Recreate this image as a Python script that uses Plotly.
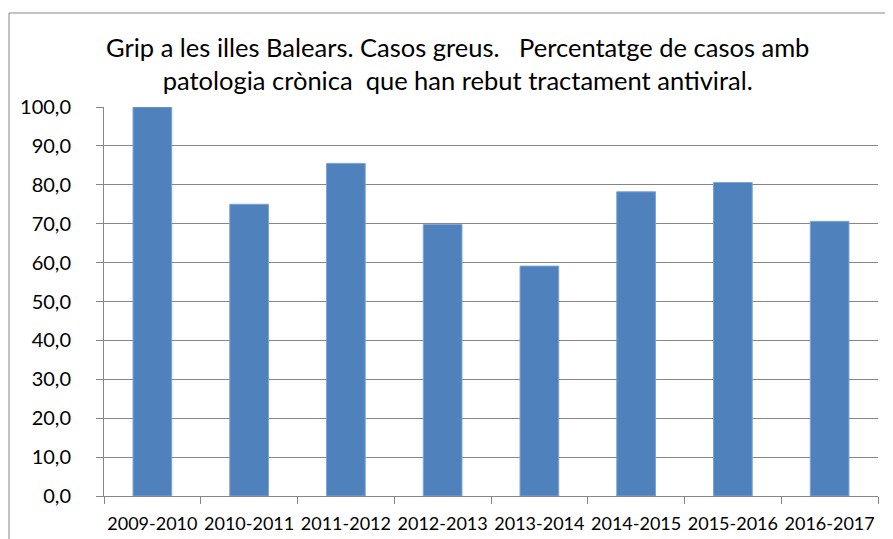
import plotly.graph_objects as go

categories = ["2009-2010", "2010-2011", "2011-2012", "2012-2013",
              "2013-2014", "2014-2015", "2015-2016", "2016-2017"]
values = [100.0, 75.0, 85.5, 69.8, 59.1, 78.2, 80.6, 70.6]
y_ticks = [0, 10, 20, 30, 40, 50, 60, 70, 80, 90, 100]

title_text = ("Grip a les illes Balears. Casos greus.&nbsp;&nbsp;&nbsp;Percentatge de casos amb"
              "<br>patologia crònica&nbsp; que han rebut tractament antiviral.")

FONT = "Lato, 'Open Sans', sans-serif"
OFF = 8  # page body margin
W, H = 893 - OFF, 539 - OFF
L, T = 104 - OFF, 107 - OFF
R = W - (878 - OFF)
B = H - (496 - OFF)
pw, ph = W - L - R, H - T - B

fig = go.Figure(go.Bar(
    x=categories, y=values,
    marker=dict(color="#4F81BD", line=dict(color="#7FA3D3", width=1)),
    hoverinfo="x+y",
))

def px_x(p):
    return (p - OFF - L) / pw

def px_y(p):
    return (H - B - (p - OFF)) / ph

fig.update_layout(
    width=W, height=H,
    margin=dict(l=L, r=R, t=T, b=B, autoexpand=False),
    paper_bgcolor="white", plot_bgcolor="white",
    separators=",.",
    bargap=0.6,
    showlegend=False,
    font=dict(family=FONT, color="black"),
    xaxis=dict(
        type="category",
        showline=True, linecolor="#868686", linewidth=1,
        ticks="outside", tickson="boundaries", ticklen=7, tickcolor="#868686",
        tickfont=dict(size=18, family=FONT),
        tickangle=0, automargin=False,
        ticklabelstandoff=11,
        showgrid=False,
    ),
    yaxis=dict(
        range=[0, 100], tickvals=y_ticks, tickformat=".1f",
        showline=True, linecolor="#868686", linewidth=1,
        ticks="outside", ticklen=7, tickcolor="#868686",
        showgrid=True, gridcolor="#868686", gridwidth=1,
        tickfont=dict(size=20, family=FONT),
        ticklabelstandoff=21, automargin=False,
        zeroline=False,
    ),
    annotations=[dict(
        text=title_text, xref="paper", yref="paper",
        x=px_x(457), y=px_y(64), xanchor="center", yanchor="middle",
        showarrow=False, align="center",
        font=dict(size=25.5, family=FONT, color="black"),
    )],
    shapes=[dict(
        type="rect", xref="paper", yref="paper",
        x0=px_x(9), x1=px_x(900), y0=px_y(545), y1=px_y(13),
        line=dict(color="#868686", width=1), fillcolor="rgba(0,0,0,0)",
        layer="below",
    )],
)

fig.write_html("out.html")
